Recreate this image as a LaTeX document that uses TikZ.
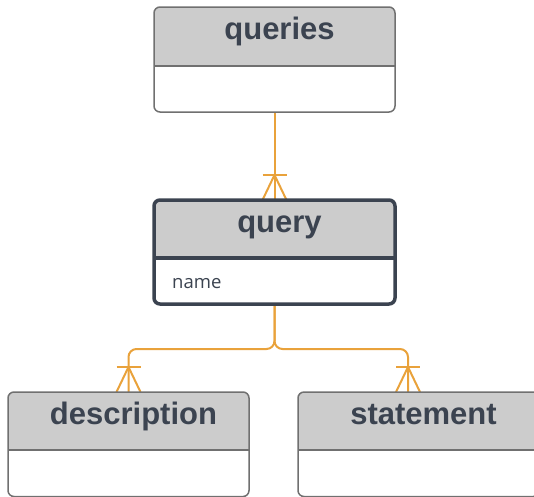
\documentclass[tikz,border=0pt]{standalone}
\usepackage{fontspec}
\setmainfont{Liberation Sans}
\newfontfamily\namefont{Open Sans}
\usetikzlibrary{calc,backgrounds}
\definecolor{hdrgray}{HTML}{CCCCCC}
\definecolor{txtdark}{HTML}{3B4350}
\definecolor{linkorange}{HTML}{E9A23B}
\definecolor{bordgray}{HTML}{707070}
\newcommand\myent[7]{%
  \node[inner sep=0pt, outer sep=0pt, minimum width=241pt, minimum height=#4pt, anchor=north west] (#1) at (#2,#3) {};
  \fill[white, rounded corners=6pt] (#1.north west) rectangle (#1.south east);
  \begin{scope}
    \clip[rounded corners=6pt] (#1.north west) rectangle (#1.south east);
    \fill[hdrgray] (#1.north west) rectangle ($(#1.north east)+(0,#5)$);
  \end{scope}
  \draw[#7] ($(#1.north west)+(0,#5)$) -- ($(#1.north east)+(0,#5)$);
  \draw[#7, rounded corners=6pt] (#1.north west) rectangle (#1.south east);
  \node[enttitle, anchor=base] (#1-title) at ($(#1.north)+(5,32)$) {#6};
}
\newcommand\crowfoot[1]{%
  \draw[link] ($(#1)+(-12,-25)$) -- ($(#1)+(12,-25)$);
  \draw[link] ($(#1)+(-12,0)$) -- ($(#1)+(0,-25)$) -- ($(#1)+(12,0)$);
}
\begin{document}
\begin{tikzpicture}[x=1pt,y=-1pt,
  thinborder/.style={draw=bordgray, line width=1.5pt},
  thickborder/.style={draw=txtdark, line width=3.5pt},
  enttitle/.style={inner sep=0pt, text=txtdark, font=\fontsize{31}{31}\selectfont\bfseries},
  attr/.style={inner sep=0pt, text=txtdark, font=\namefont\fontsize{18.5}{18.5}\selectfont},
  link/.style={draw=linkorange, line width=2pt}]
\useasboundingbox (0,0) rectangle (534,496);
\clip (0,0) rectangle (534,496);

\myent{queries}{154}{7}{105}{59}{queries}{thinborder}
\myent{query}{154}{200}{104}{58}{query}{thickborder}
\node[attr, anchor=base west] (qname) at ($(query.north west)+(18,88)$) {name};
\myent{description}{8}{392}{104.5}{58}{description}{thinborder}
\myent{statement}{298}{392}{104.5}{58}{statement}{thinborder}

\begin{scope}[on background layer]
  \draw[link] (queries.south) -- (query.north);
  \crowfoot{query.north}
  \coordinate (j) at ($(query.south)+(0,45)$);
  \coordinate (stmtin) at ($(statement.north west)+(110,0)$);
  \draw[link, rounded corners=8pt] (query.south) -- (j) -| (description.north);
  \draw[link, rounded corners=8pt] (query.south) -- (j) -| (stmtin);
  \crowfoot{description.north}
  \crowfoot{stmtin}
\end{scope}
\end{tikzpicture}
\end{document}
